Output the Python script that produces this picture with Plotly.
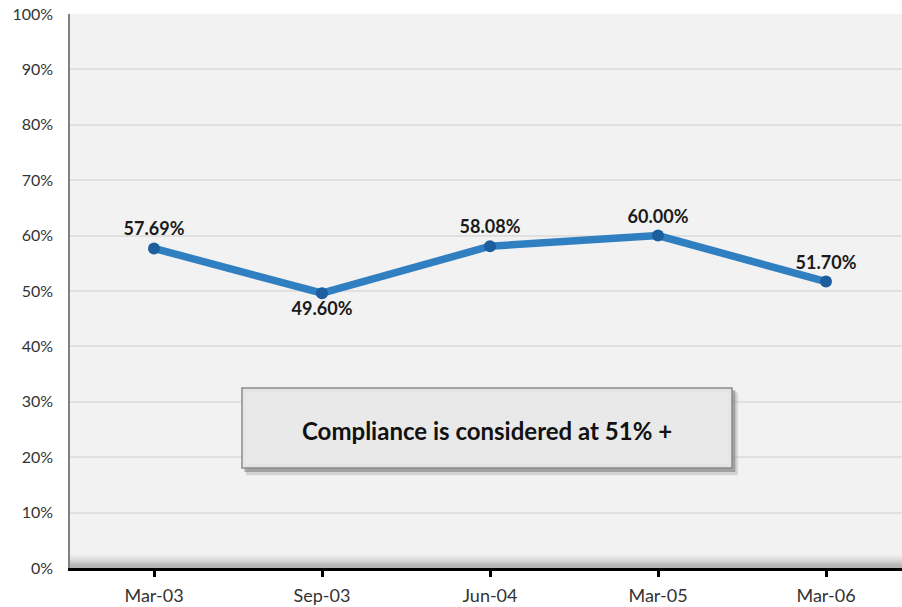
import plotly.graph_objects as go

categories = ["Mar-03", "Sep-03", "Jun-04", "Mar-05", "Mar-06"]
compliance = [57.69, 49.60, 58.08, 60.00, 51.70]
label_text = ["57.69%", "49.60%", "58.08%", "60.00%", "51.70%"]
label_pos = ["top center", "bottom center", "top center", "top center", "top center"]
y_ticks = [0, 10, 20, 30, 40, 50, 60, 70, 80, 90, 100]
y_tick_text = [f"{v}%" for v in y_ticks]
note = "Compliance is considered at 51% +"

FONT = "Lato"

fig = go.Figure()
fig.add_trace(go.Scatter(
    x=list(range(len(categories))), y=compliance,
    mode="lines+markers+text",
    line=dict(color="#2f7fc1", width=7.5),
    marker=dict(color="#1c5e9e", size=12, line=dict(width=0)),
    text=label_text, textposition=label_pos,
    textfont=dict(family=FONT, size=18, color="#1a1a1a", weight="bold"),
    cliponaxis=False, hoverinfo="skip",
))

shapes = []
# bottom shading of plot area
for i, op in enumerate([0.02, 0.03, 0.04, 0.05, 0.06, 0.07]):
    shapes.append(dict(type="rect", xref="paper", yref="paper", x0=0, x1=1,
                       y0=0, y1=0.024 - i * 0.0035, fillcolor="#000000",
                       opacity=op, line=dict(width=0), layer="below"))
# box shadow
shapes.append(dict(type="rect", xref="paper", yref="paper",
                   x0=0.2067 + 0.005, x1=0.7957 + 0.007, y0=0.1805 - 0.013, y1=0.3249 - 0.008,
                   fillcolor="#9a9a9a", opacity=0.35, line=dict(width=0)))
shapes.append(dict(type="rect", xref="paper", yref="paper",
                   x0=0.2067 + 0.003, x1=0.7957 + 0.004, y0=0.1805 - 0.007, y1=0.3249 - 0.004,
                   fillcolor="#707070", opacity=0.5, line=dict(width=0)))
# box
shapes.append(dict(type="rect", xref="paper", yref="paper",
                   x0=0.2067, x1=0.7957, y0=0.1805, y1=0.3249,
                   fillcolor="#e4e4e4", line=dict(color="#8c8c8c", width=1.5)))
shapes.append(dict(type="rect", xref="paper", yref="paper",
                   x0=0.2067 + 0.004, x1=0.7957 - 0.004, y0=0.1805 + 0.008, y1=0.3249 - 0.007,
                   fillcolor="#e9e9e9", line=dict(width=0)))

fig.update_layout(
    width=902, height=607,
    margin=dict(l=70, r=0, t=14, b=39),
    paper_bgcolor="#ffffff", plot_bgcolor="#f2f2f2",
    showlegend=False,
    shapes=shapes,
    annotations=[dict(xref="paper", yref="paper", x=0.5012, y=0.249,
                      xanchor="center", yanchor="middle",
                      text=note, showarrow=False,
                      font=dict(family=FONT, size=24, color="#111111", weight="bold"))],
    xaxis=dict(
        tickmode="array", tickvals=list(range(len(categories))), ticktext=categories,
        range=[-0.5, 4.5 - 8 / 168], showgrid=False, zeroline=False,
        showline=True, linecolor="#000000", linewidth=2.5,
        ticks="outside", tickson="boundaries", ticklen=6, tickwidth=2.5, tickcolor="#000000",
        ticklabelstandoff=4, automargin=False,
        tickfont=dict(family=FONT, size=18, color="#333333"),
    ),
    yaxis=dict(
        range=[0, 100], tickvals=y_ticks, ticktext=y_tick_text,
        showgrid=True, gridcolor="#e0e0e0", gridwidth=1.5, zeroline=False,
        showline=True, linecolor="#808080", linewidth=1.5,
        ticks="", ticklabelstandoff=12, automargin=False,
        tickfont=dict(family=FONT, size=16, color="#333333"),
    ),
)

fig.write_html("out.html")
